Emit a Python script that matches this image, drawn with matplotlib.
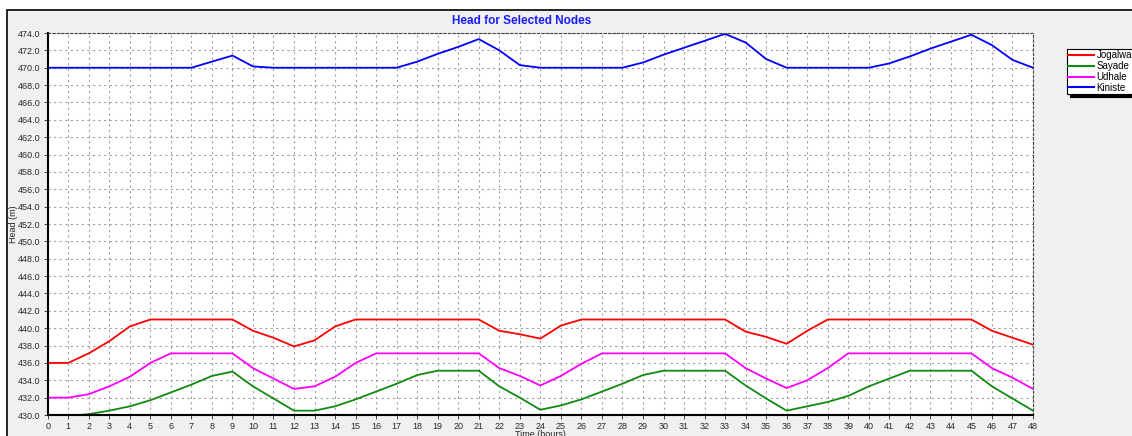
import matplotlib
matplotlib.use("Agg")
import matplotlib.pyplot as plt
from matplotlib.patches import Rectangle
from matplotlib.ticker import MultipleLocator, FormatStrFormatter

hours = list(range(49))

jogalwadi = [436.0, 436.0, 437.1, 438.5, 440.2, 441.0, 441.0, 441.0, 441.0, 441.0,
             439.7, 438.9, 437.9, 438.6, 440.2, 441.0, 441.0, 441.0, 441.0, 441.0,
             441.0, 441.0, 439.7, 439.3, 438.8, 440.3, 441.0, 441.0, 441.0, 441.0,
             441.0, 441.0, 441.0, 441.0, 439.6, 439.0, 438.2, 439.7, 441.0, 441.0,
             441.0, 441.0, 441.0, 441.0, 441.0, 441.0, 439.7, 438.9, 438.1]

sayade = [429.9, 429.9, 430.1, 430.5, 431.0, 431.7, 432.6, 433.5, 434.5, 435.0,
          433.3, 431.9, 430.5, 430.5, 431.0, 431.8, 432.7, 433.6, 434.6, 435.1,
          435.1, 435.1, 433.3, 432.0, 430.6, 431.1, 431.8, 432.7, 433.6, 434.6,
          435.1, 435.1, 435.1, 435.1, 433.4, 431.9, 430.5, 431.0, 431.5, 432.2,
          433.3, 434.2, 435.1, 435.1, 435.1, 435.1, 433.3, 431.9, 430.5]

udhale = [432.0, 432.0, 432.4, 433.3, 434.4, 436.0, 437.1, 437.1, 437.1, 437.1,
          435.4, 434.2, 433.0, 433.3, 434.4, 436.0, 437.1, 437.1, 437.1, 437.1,
          437.1, 437.1, 435.4, 434.5, 433.4, 434.5, 435.9, 437.1, 437.1, 437.1,
          437.1, 437.1, 437.1, 437.1, 435.4, 434.2, 433.1, 434.0, 435.4, 437.1,
          437.1, 437.1, 437.1, 437.1, 437.1, 437.1, 435.4, 434.3, 433.0]

kiniste = [470.0, 470.0, 470.0, 470.0, 470.0, 470.0, 470.0, 470.0, 470.7, 471.4,
           470.15, 470.0, 470.0, 470.0, 470.0, 470.0, 470.0, 470.0, 470.7, 471.6,
           472.4, 473.3, 472.0, 470.3, 470.0, 470.0, 470.0, 470.0, 470.0, 470.6,
           471.5, 472.3, 473.1, 473.9, 472.9, 471.0, 470.0, 470.0, 470.0, 470.0,
           470.0, 470.5, 471.3, 472.2, 473.0, 473.8, 472.6, 470.9, 470.0]

series_names = ["Jogalwadi", "Sayade", "Udhale", "Kiniste"]
series_values = [jogalwadi, sayade, udhale, kiniste]
series_colors = ["#ff0000", "#108a10", "#ff00ff", "#0000ff"]

W, H = 1132, 436
fig = plt.figure(figsize=(W / 100, H / 100), dpi=100)
fig.patch.set_facecolor("white")

# outer gray panel with border
fig.patches.append(Rectangle((7 / W, -0.1), 1.2, (H - 10) / H + 0.1,
                             transform=fig.transFigure, facecolor="#f0f0f0",
                             edgecolor="black", linewidth=1.2, zorder=-5))

ax = fig.add_axes([47.7 / W, (H - 415) / H, (1033 - 47.7) / W, (415 - 33) / H])
ax.set_zorder(2)
ax.set_facecolor("white")

for name, vals, col in zip(series_names, series_values, series_colors):
    ax.plot(hours, vals, color=col, linewidth=1.3, label=name, clip_on=True)

ax.set_xlim(0, 48)
ax.set_ylim(430, 474)
ax.xaxis.set_major_locator(MultipleLocator(1))
ax.yaxis.set_major_locator(MultipleLocator(2))
ax.yaxis.set_major_formatter(FormatStrFormatter("%.1f"))
ax.grid(True, color="#a0a0a0", linestyle=(0, (2, 3)), linewidth=0.8)
ax.tick_params(labelsize=6.5, colors="#2a2a2a", length=3, width=0.6, pad=2,
               labelfontfamily="Liberation Sans")

for s in ["top", "right"]:
    ax.spines[s].set_linestyle((0, (2, 2)))
    ax.spines[s].set_color("#444444")
    ax.spines[s].set_linewidth(0.8)
ax.spines["left"].set_color("black")
ax.spines["left"].set_linewidth(1.5)
ax.spines["bottom"].set_color("black")
ax.spines["bottom"].set_linewidth(1.5)
ax.spines["bottom"].set_linestyle((0, (2, 1)))

ax.set_ylabel("Head (m)", fontsize=6.5, family="Liberation Sans", color="#222222")
ax.yaxis.set_label_coords((14 - 47.7) / (1033 - 47.7), 0.5)
ax.yaxis.label.set_va("center")
ax.set_xlabel("Time (hours)", fontsize=6.5, family="Liberation Sans", color="#222222")
ax.xaxis.set_label_coords(0.5, -(434 - 415) / (415 - 33))
ax.xaxis.label.set_va("center")

fig.text(522 / W, 1 - 21.5 / H, "Head for Selected Nodes", ha="center", va="center",
         color="#1a1aff", fontsize=8.5, fontweight="bold", family="Liberation Sans")

leg = fig.legend(loc="upper left", bbox_to_anchor=(1067 / W, 1 - 49 / H),
                 prop={"family": "Liberation Sans", "size": 7},
                 frameon=True, fancybox=False,
                 shadow={"facecolor": "black", "edgecolor": "black", "alpha": 1.0},
                 handlelength=2.6, handletextpad=0.3, borderpad=0.15,
                 labelspacing=0.08, borderaxespad=0)
leg.get_frame().set_edgecolor("black")
leg.get_frame().set_linewidth(0.8)
for line in leg.get_lines():
    line.set_linewidth(1.5)

fig.savefig("out.png", dpi=100, facecolor=fig.get_facecolor())
